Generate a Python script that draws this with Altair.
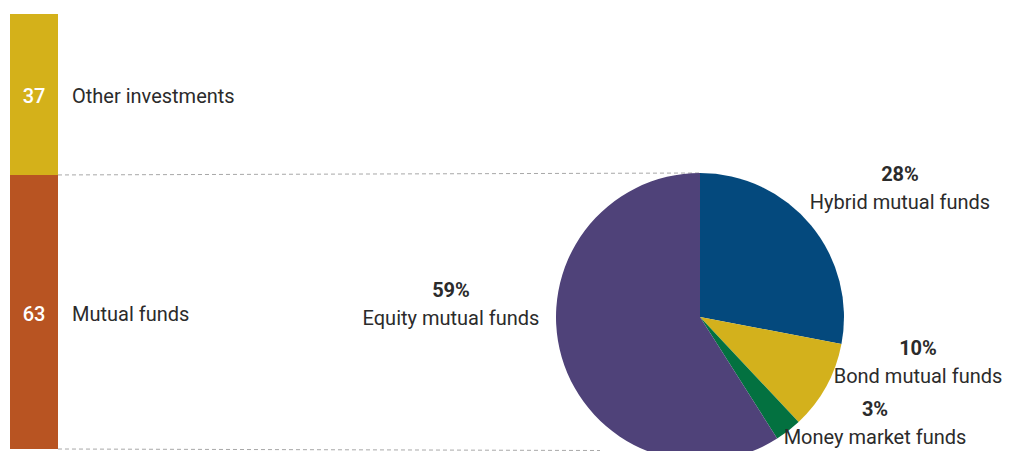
import altair as alt
import pandas as pd

# ---- data ----
bar_categories = ["Mutual funds", "Other investments"]
bar_values = [63, 37]
bar_colors = ["#B85422", "#D4B11A"]

pie_categories = ["Hybrid mutual funds", "Bond mutual funds", "Money market funds", "Equity mutual funds"]
pie_values = [28, 10, 3, 59]
pie_colors = ["#04497D", "#D3B11C", "#037140", "#4F4279"]

# ---- layout ----
W, H = 997, 443
FONT = "Roboto"
TEXT = "#2b2b2b"
BAR_X0, BAR_X1 = 2, 50
BAR_TOP, BAR_BOTTOM = 6, 441
CX, CY, R = 692, 309, 144
FS = 20
# label anchors (centre x, y of the percentage line)
label_anchor = {
    "Hybrid mutual funds": (892, 167),
    "Equity mutual funds": (443, 283),
    "Bond mutual funds": (910, 341),
    "Money market funds": (867, 402),
}
LINE_GAP = 28

bar_df = pd.DataFrame({"category": bar_categories, "value": bar_values})
bar_df["end"] = bar_df["value"].cumsum()
bar_df["start"] = bar_df["end"] - bar_df["value"]
bar_df["mid"] = (bar_df["start"] + bar_df["end"]) / 2
bar_df["label"] = bar_df["value"].astype(str)

pie_df = pd.DataFrame({"category": pie_categories, "value": pie_values})
pie_df["order"] = range(len(pie_df))
pie_df["pct"] = pie_df["value"].astype(str) + "%"

yscale = alt.Scale(domain=[0, 100], range=[BAR_BOTTOM, BAR_TOP], nice=False, zero=False)

bars = alt.Chart(bar_df).mark_bar().encode(
    x=alt.value(BAR_X0), x2=alt.value(BAR_X1),
    y=alt.Y("start:Q", scale=yscale, axis=None), y2="end:Q",
    color=alt.Color("category:N", scale=alt.Scale(domain=bar_categories, range=bar_colors), legend=None),
)

bar_nums = alt.Chart(bar_df).mark_text(
    font=FONT, fontSize=FS, fontWeight=500, color="white", align="center", baseline="middle", dy=3
).encode(x=alt.value((BAR_X0 + BAR_X1) / 2), y=alt.Y("mid:Q", scale=yscale, axis=None), text="label:N")

bar_names = alt.Chart(bar_df).mark_text(
    font=FONT, fontSize=FS, color=TEXT, align="left", baseline="middle", dy=3
).encode(x=alt.value(64), y=alt.Y("mid:Q", scale=yscale, axis=None), text="category:N")

rule_style = dict(strokeDash=[4, 3], color="#a8a8a8", strokeWidth=1)
top_rule = alt.Chart(bar_df).transform_filter(alt.datum.category == "Mutual funds").mark_rule(**rule_style).encode(
    x=alt.value(BAR_X1), x2=alt.value(CX),
    y=alt.Y("end:Q", scale=yscale, axis=None), y2=alt.value(CY - R),
)
# bottom connector runs towards the pie's lower edge, visible up to the chart's bottom edge
bottom_rule = alt.Chart(bar_df).transform_filter(alt.datum.category == "Mutual funds").mark_rule(**rule_style).encode(
    x=alt.value(BAR_X1), x2=alt.value(CX - 100),
    y=alt.Y("start:Q", scale=yscale, axis=None), y2=alt.value(H - 0.5),
)

pie = alt.Chart(pie_df).mark_arc(outerRadius=R).encode(
    theta=alt.Theta("value:Q", stack=True),
    order=alt.Order("order:Q"),
    color=alt.Color("category:N", scale=alt.Scale(domain=pie_categories, range=pie_colors), legend=None),
    x=alt.value(CX), y=alt.value(CY),
)

label_layers = []
for cat, (lx, ly) in label_anchor.items():
    sub = pie_df[pie_df["category"] == cat]
    label_layers.append(
        alt.Chart(sub).mark_text(font=FONT, fontSize=FS, fontWeight="bold", color=TEXT,
                                 align="center", baseline="middle", x=lx, y=ly).encode(text="pct:N")
    )
    label_layers.append(
        alt.Chart(sub).mark_text(font=FONT, fontSize=FS, color=TEXT,
                                 align="center", baseline="middle", x=lx, y=ly + LINE_GAP).encode(text="category:N")
    )

chart = alt.layer(
    top_rule, bottom_rule, bars, bar_nums, bar_names, pie, *label_layers
).resolve_scale(color="independent", theta="independent").properties(
    width=W, height=H, padding=0, autosize=alt.AutoSizeParams(type="none")
).configure_view(stroke=None)

chart.save("out.html", embed_options={"renderer": "svg", "actions": False})
